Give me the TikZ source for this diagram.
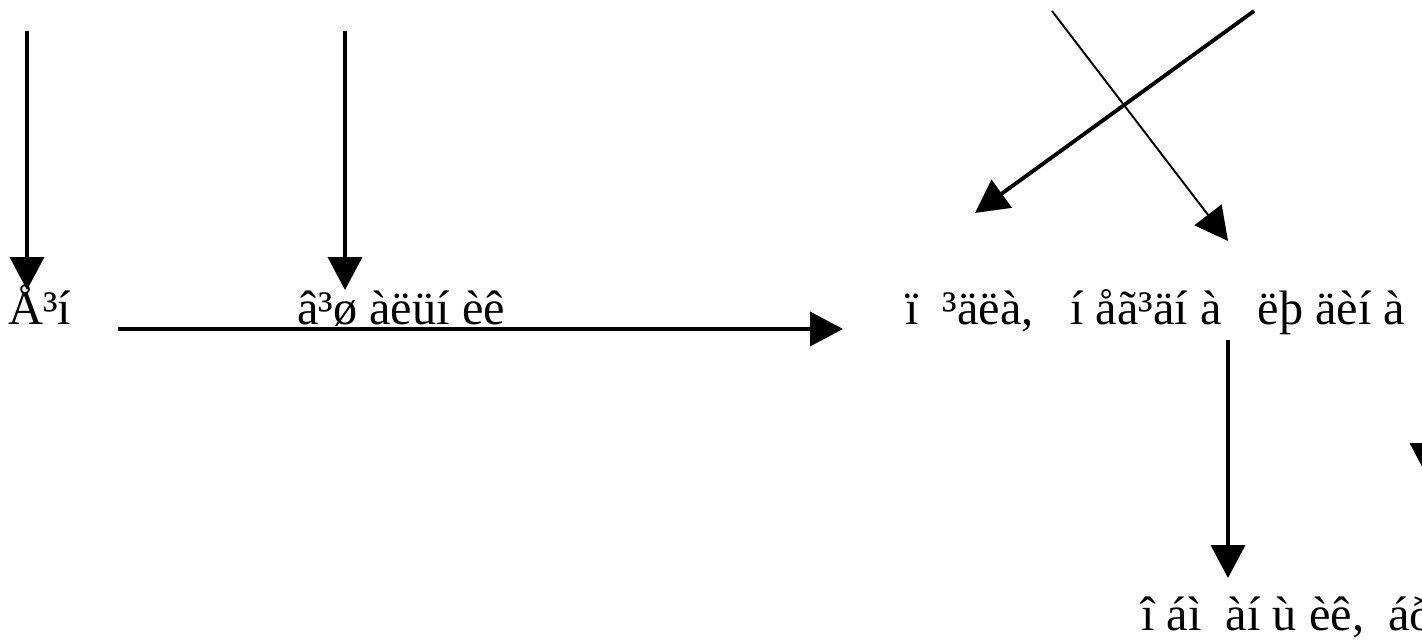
\documentclass[tikz,border=0pt]{standalone}
\usepackage{fontspec}
\setmainfont{Liberation Serif}
\usetikzlibrary{arrows.meta}
\tikzstyle{arr}=[line width=2.2pt,-{Triangle[length=0.66cm,width=0.68cm]}]
\tikzstyle{thinarr}=[line width=1.1pt,-{Triangle[length=0.66cm,width=0.68cm]}]
\tikzstyle{lbl}=[anchor=base west,inner sep=0pt,font=\fontsize{27.5}{32}\selectfont]

\begin{document}
\begin{tikzpicture}[x=0.02cm,y=-0.02cm]
  \useasboundingbox (0,0) rectangle (1422,641);
  \clip (0,0) rectangle (1422,641);

  \node[lbl] (start) at (8,325) {Å³í};
  \node[lbl] (mid) at (297,325) {â³ø àëüí èê};
  \node[lbl] (goal) at (905,325) {ï\ \ ³äëà,\ \ \ í åã³äí à\ \ \ ëþ äèí à};
  \node[lbl] (res) at (1141,630) {î áì\ \ àí ù èê,\ \ áð};

  % arrows from the top
  \foreach \x [count=\i] in {27,345}{
    \coordinate (t\i) at (\x,31);
    \coordinate (h\i) at (\x,290);
    \draw[arr] (t\i) -- (h\i);
  }

  \coordinate (l1) at (118,329);
  \coordinate (l2) at (843,329);
  \draw[arr] (l1) -- (l2);

  % crossing pair
  \coordinate (c1) at (1254,11);
  \coordinate (c2) at (975,213);
  \draw[arr] (c1) -- (c2);
  \coordinate (d1) at (1052,11);
  \coordinate (d2) at (1228,241);
  \draw[thinarr] (d1) -- (d2);

  \coordinate (v1) at (1228,340);
  \coordinate (v2) at (1228,578);
  \draw[arr] (v1) -- (v2);

  % cut off at the right edge
  \coordinate (e1) at (1427,300);
  \coordinate (e2) at (1427,476);
  \draw[arr] (e1) -- (e2);
\end{tikzpicture}
\end{document}
